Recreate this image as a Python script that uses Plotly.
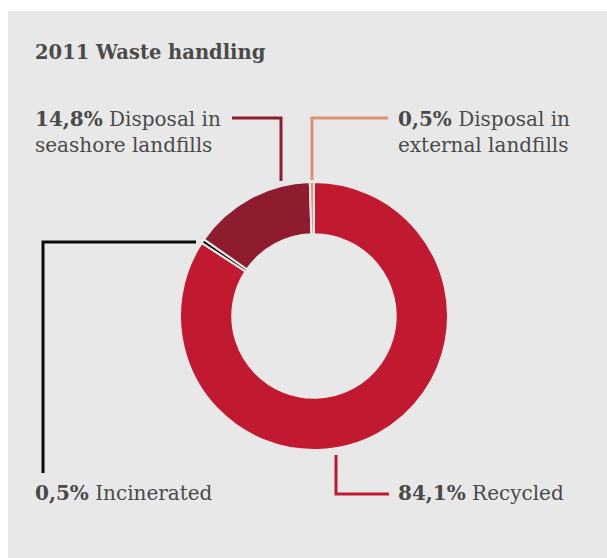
import plotly.graph_objects as go

categories = ["Recycled", "Incinerated", "Disposal in seashore landfills", "Disposal in external landfills"]
values = [84.1, 0.5, 14.8, 0.5]
pct_labels = ["84,1%", "0,5%", "14,8%", "0,5%"]
label_texts = ["Recycled", "Incinerated", "Disposal in<br>seashore landfills", "Disposal in<br>external landfills"]
colors = ["#c1192f", "#0a0a0a", "#8e1b2e", "#dc9273"]

W, H = 607, 558
FONT = "DejaVu Serif"
TXT = "#4a4a4a"

fig = go.Figure()
fig.add_trace(go.Pie(
    labels=categories, values=values, sort=False, direction="clockwise", rotation=0,
    hole=0.61, marker=dict(colors=colors, line=dict(color="#e8e8e8", width=2)),
    textinfo="none", hoverinfo="label+percent", showlegend=False,
    domain=dict(x=[180 / W, 448 / W], y=[1 - 450 / H, 1 - 182 / H]),
))

# invisible pixel axes for the leader lines
fig.update_xaxes(range=[0, W], visible=False, domain=[0, 1], fixedrange=True)
fig.update_yaxes(range=[H, 0], visible=False, domain=[0, 1], fixedrange=True)
fig.add_trace(go.Scatter(x=[0], y=[0], mode="markers", marker=dict(opacity=0), hoverinfo="skip", showlegend=False))

shapes = [
    dict(type="rect", xref="x", yref="y", x0=8, x1=W, y0=11, y1=H, fillcolor="#e8e8e8", line=dict(width=0), layer="below"),
    dict(type="path", xref="x", yref="y", path="M 232 118 L 281 118 L 281 181", line=dict(color=colors[2], width=3)),
    dict(type="path", xref="x", yref="y", path="M 388 118 L 312 118 L 312 180", line=dict(color=colors[3], width=3)),
    dict(type="path", xref="x", yref="y", path="M 196 242 L 43 242 L 43 473", line=dict(color=colors[1], width=3)),
    dict(type="path", xref="x", yref="y", path="M 336 455 L 336 494 L 389 494", line=dict(color=colors[0], width=3)),
]

def ann(x, y, text, size=20, anchor="left"):
    return dict(x=x, y=y, xref="x", yref="y", text=text, showarrow=False, xanchor=anchor, yanchor="middle",
                align="left", font=dict(family=FONT, size=size, color=TXT))

annotations = [
    ann(33, 52, "<b>2011 Waste handling</b>", size=19.5),
    ann(33, 132, f"<b>{pct_labels[2]}</b> {label_texts[2]}"),
    ann(396, 132, f"<b>{pct_labels[3]}</b> {label_texts[3]}"),
    ann(33, 493, f"<b>{pct_labels[1]}</b> {label_texts[1]}"),
    ann(396, 493, f"<b>{pct_labels[0]}</b> {label_texts[0]}"),
]

fig.update_layout(width=W, height=H, margin=dict(l=0, r=0, t=0, b=0),
                  paper_bgcolor="white", plot_bgcolor="rgba(0,0,0,0)",
                  shapes=shapes, annotations=annotations)
fig.write_html("out.html")
